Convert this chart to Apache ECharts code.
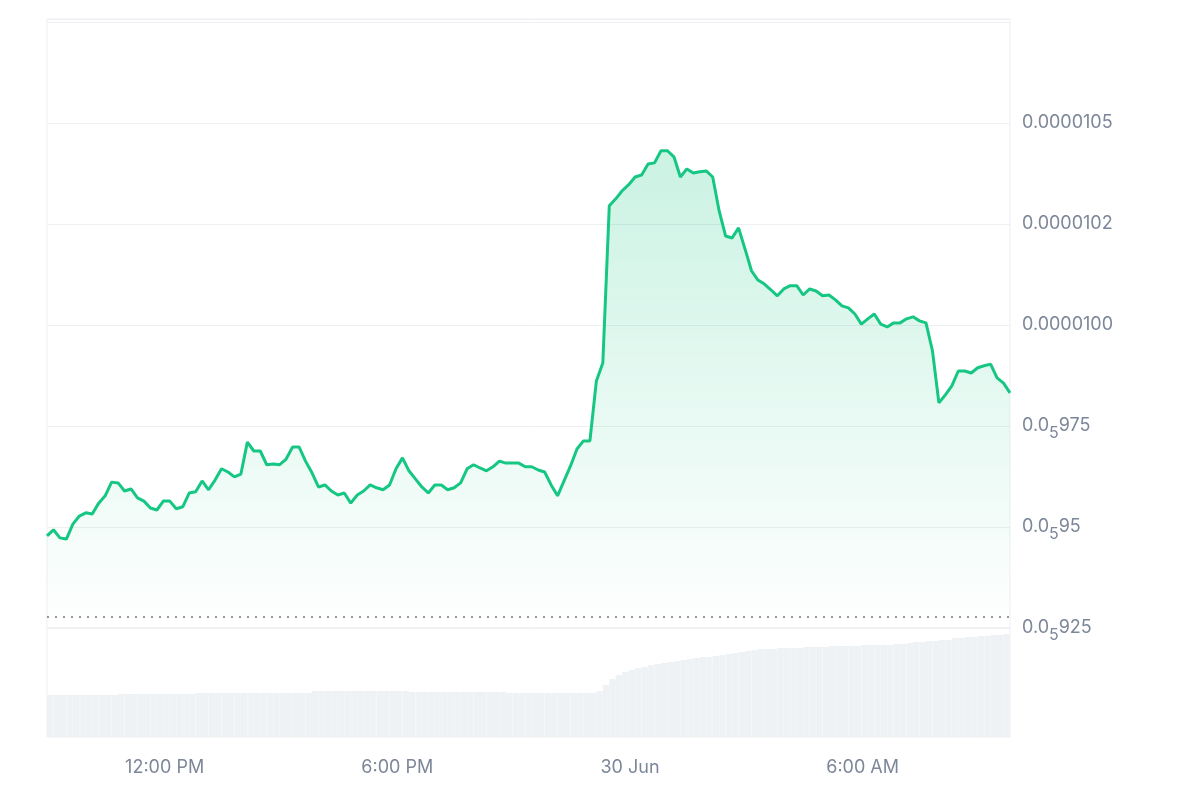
<!DOCTYPE html>
<html><head><meta charset="utf-8">
<script src="https://cdn.jsdelivr.net/npm/echarts@6/dist/echarts.min.js"></script>
<style>html,body{margin:0;background:#fff}#c{width:1200px;height:800px}</style>
</head><body><div id="c"></div>
<script>
// price values in units of 1e-9, one reading every 10 minutes from 29 Jun 08:57
const priceE9 = [9478,9493,9473,9470,9507,9527,9535,9532,9559,9577,9611,9609,9589,9594,9572,9564,9547,9542,9564,9564,
9545,9550,9584,9587,9614,9592,9616,9644,9636,9624,9631,9710,9688,9688,9654,9656,9654,9668,9698,9698,
9663,9634,9599,9604,9589,9579,9584,9559,9579,9589,9604,9597,9592,9604,9644,9671,9639,9619,9599,9584,
9604,9604,9592,9597,9609,9644,9654,9646,9639,9649,9663,9658,9658,9658,9649,9649,9641,9636,9604,9577,
9614,9651,9693,9713,9713,9861,9906,10295,10312,10332,10347,10366,10371,10398,10401,10431,10431,10416,10366,10386,
10376,10379,10381,10366,10282,10220,10215,10240,10188,10134,10111,10101,10087,10072,10089,10097,10097,10074,10089,10084,
10072,10074,10062,10047,10042,10027,10002,10015,10027,10002,9995,10005,10005,10015,10020,10010,10005,9936,9807,9827,
9849,9886,9886,9881,9894,9899,9903,9869,9856,9832];
const volume = [42,42,42,42,42,42,42,42,42,42,42,43,43,43,43,43,43,43,43,43,
43,43,43,44,44,44,44,44,44,44,44,44,44,44,44,44,44,44,44,44,
44,46,46,46,46,46,46,46,46,46,46,46,46,46,46,46,45,45,45,45,
45,45,45,45,45,45,45,45,45,45,45,44,44,44,44,44,44,44,44,44,
44,44,44,44,44,46,52,58,62,65,67,69,70,72,73,74,75,76,77,78,
79,80,80,81,82,83,84,85,86,87,88,88,88,89,89,89,89,90,90,90,
90,91,91,91,91,91,92,92,92,92,92,93,93,94,95,95,96,96,97,97,
99,99,100,100,101,101,102,102,103];
const startTime = new Date(2024,5,29,8,58).getTime();
const endTime = new Date(2024,5,30,9,48).getTime();
const xTickLabels = ['12:00 PM','6:00 PM','30 Jun','6:00 AM'];
const xTickTimes = [new Date(2024,5,29,12,0).getTime(),new Date(2024,5,29,18,0).getTime(),new Date(2024,5,30,0,0).getTime(),new Date(2024,5,30,6,0).getTime()];
const yTickLabels = {9250:['0.0','5','925'],9500:['0.0','5','95'],9750:['0.0','5','975'],10000:['0.0000100'],10250:['0.0000102'],10500:['0.0000105']};
const baseline = 9.277e-6;

const step = 600000;
const priceData = priceE9.map((v,i)=>[startTime+i*step, v*1e-9]);
const volData = volume.map((v,i)=>[startTime+i*step+step/2, v]);
const lc = '#7d8799';
const chart = echarts.init(document.getElementById('c'));
chart.setOption({
  animation:false,
  grid:[{left:47,right:190,top:19,height:609,show:true,borderColor:'#eeeff2',borderWidth:1},
        {left:47,right:190,top:628,height:109,show:true,borderColor:'#eeeff2',borderWidth:1}],
  xAxis:[{type:'value',gridIndex:0,min:startTime,max:endTime,axisLine:{show:false},axisTick:{show:false},axisLabel:{show:false},splitLine:{show:false}},
         {type:'value',gridIndex:1,min:startTime,max:endTime,axisLine:{show:false},axisTick:{show:false},splitLine:{show:false},
          axisLabel:{customValues:xTickTimes,color:lc,fontSize:18,fontFamily:'Inter',margin:22,
            formatter:(v)=>{const i=xTickTimes.indexOf(v);return i>=0?xTickLabels[i]:'';}}}],
  yAxis:[{type:'value',gridIndex:0,position:'right',min:9.25e-6,max:1.0757e-5,interval:2.5e-7,
          axisLine:{show:false},axisTick:{show:false},splitLine:{lineStyle:{color:'#eeeff2'}},
          axisLabel:{color:lc,fontSize:18,fontFamily:'Inter',margin:12,
            formatter:(v)=>{const t=yTickLabels[Math.round(v*1e9)];if(!t)return '';return t.length===1?t[0]:t[0]+'{s|'+t[1]+'}'+t[2];},
            rich:{s:{fontSize:16,color:lc,fontFamily:'Inter',verticalAlign:'bottom',padding:[14,0,0,0]}}}},
         {type:'value',gridIndex:1,min:0,max:109,show:false,splitLine:{show:false}}],
  series:[
    {type:'bar',xAxisIndex:1,yAxisIndex:1,data:volData,barWidth:6.4,itemStyle:{color:'#eff2f5'},silent:true},
    {type:'line',xAxisIndex:0,yAxisIndex:0,data:[[startTime,baseline],[endTime,baseline]],showSymbol:false,silent:true,z:5,
     lineStyle:{color:'#777',type:[2,6],width:1.5}},
    {type:'line',xAxisIndex:0,yAxisIndex:0,data:priceData,showSymbol:false,smooth:false,z:3,
     lineStyle:{color:'#16c784',width:3},
     areaStyle:{origin:'start',color:new echarts.graphic.LinearGradient(0,0,0,1,[{offset:0,color:'rgba(22,199,132,0.32)'},{offset:1,color:'rgba(22,199,132,0.0)'}])}}
  ]
});
</script></body></html>
